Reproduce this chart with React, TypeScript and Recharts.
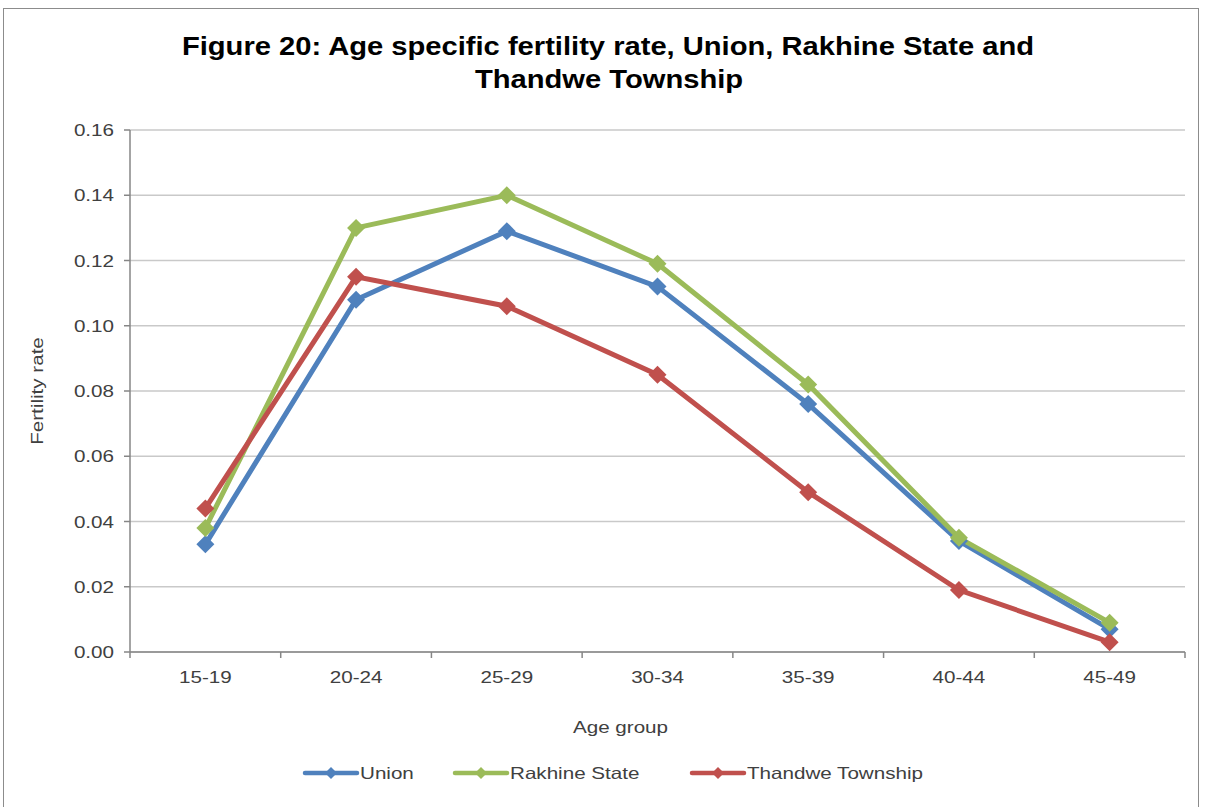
import React from "react";
import { LineChart, Line, XAxis, YAxis, CartesianGrid, Legend } from "recharts";

const ageGroups = ["15-19", "20-24", "25-29", "30-34", "35-39", "40-44", "45-49"];
const unionRate = [0.033, 0.108, 0.129, 0.112, 0.076, 0.034, 0.007];
const rakhineRate = [0.038, 0.13, 0.14, 0.119, 0.082, 0.035, 0.009];
const thandweRate = [0.044, 0.115, 0.106, 0.085, 0.049, 0.019, 0.003];
const yTicks = [0, 0.02, 0.04, 0.06, 0.08, 0.1, 0.12, 0.14, 0.16];

const seriesNames = ["Union", "Rakhine State", "Thandwe Township"];
const legendStart = [303, 453, 690];

const chartData = ageGroups.map((age, i) => ({
  age,
  union: unionRate[i],
  rakhine: rakhineRate[i],
  thandwe: thandweRate[i],
}));

const FONT = '"Liberation Sans", Arial, sans-serif';
const AXIS_GREY = "#868686";
const TEXT = "#404040";

// the source picture is stretched sideways, so text gets scaled on x
const Stretched = ({ x, y, sx = 1.25, rotate = 0, anchor = "start", size = 16.5, bold = false, fill = TEXT, children }: any) => (
  <text
    transform={`translate(${x} ${y}) rotate(${rotate}) scale(${sx} 1)`}
    textAnchor={anchor}
    fontFamily={FONT}
    fontSize={size}
    fontWeight={bold ? "bold" : "normal"}
    fill={fill}
  >
    {children}
  </text>
);

const diamond = (props: any) => {
  const { cx, cy, stroke, index, dataKey } = props;
  if (cx == null || cy == null) return <g key={`${dataKey}-${index}`} />;
  const r = 9;
  return (
    <polygon
      key={`${dataKey}-${index}`}
      points={`${cx},${cy - r} ${cx + r},${cy} ${cx},${cy + r} ${cx - r},${cy}`}
      fill={stroke}
    />
  );
};

// labels centred in the band, tick marks on the band edges
const AgeTick = (props: any) => {
  const { x, y, payload, index, width, visibleTicksCount } = props;
  const band = width / visibleTicksCount;
  const last = index === visibleTicksCount - 1;
  return (
    <g>
      <line x1={x - band / 2} x2={x - band / 2} y1={y} y2={y + 6} stroke={AXIS_GREY} strokeWidth={1.5} />
      {last && <line x1={x + band / 2} x2={x + band / 2} y1={y} y2={y + 6} stroke={AXIS_GREY} strokeWidth={1.5} />}
      <Stretched x={x} y={y + 31} anchor="middle">
        {payload.value}
      </Stretched>
    </g>
  );
};

const RateTick = (props: any) => {
  const { x, y, payload } = props;
  return (
    <Stretched x={x} y={y + 6} anchor="end">
      {Number(payload.value).toFixed(2)}
    </Stretched>
  );
};

const renderLegend = (props: any) => {
  const payload = props.payload || [];
  const items = seriesNames.map((n) => payload.find((p: any) => p.value === n)).filter(Boolean);
  return (
    <svg width={1205} height={30}>
      {items.map((p: any, i: number) => {
        const x0 = legendStart[i];
        return (
          <g key={p.value}>
            <line x1={x0 + 2} x2={x0 + 54} y1={14} y2={14} stroke={p.color} strokeWidth={4.5} strokeLinecap="round" />
            <polygon points={`${x0 + 28},8 ${x0 + 34},14 ${x0 + 28},20 ${x0 + 22},14`} fill={p.color} />
            <Stretched x={x0 + 57} y={20}>
              {p.value}
            </Stretched>
          </g>
        );
      })}
    </svg>
  );
};

export default function App() {
  return (
    <div style={{ position: "absolute", left: 0, top: 0, width: 1205, height: 807, background: "#fff", overflow: "hidden" }}>
      <div
        style={{
          position: "absolute",
          left: 3,
          top: 8,
          width: 1196,
          height: 830,
          border: "1.5px solid #8c8c8c",
          boxSizing: "border-box",
        }}
      />
      <svg width={1205} height={110} style={{ position: "absolute", left: 0, top: 0 }}>
        <Stretched x={608} y={55} sx={1.1} anchor="middle" size={26.5} bold fill="#000">
          Figure 20: Age specific fertility rate, Union, Rakhine State and
        </Stretched>
        <Stretched x={609} y={88} sx={1.1} anchor="middle" size={26.5} bold fill="#000">
          Thandwe Township
        </Stretched>
      </svg>
      <div style={{ position: "absolute", left: 0, top: 0 }}>
        <LineChart width={1205} height={807} data={chartData} margin={{ top: 130, right: 20, left: 0, bottom: 87 }}>
          <CartesianGrid vertical={false} stroke="#c9c9c9" strokeWidth={1.5} />
          <XAxis
            dataKey="age"
            scale="band"
            height={68}
            stroke={AXIS_GREY}
            strokeWidth={1.5}
            tickLine={false}
            tickSize={0}
            tickMargin={0}
            tick={<AgeTick />}
            interval={0}
            label={{
              content: (lp: any) => {
                const vb = lp.viewBox;
                return (
                  <Stretched x={vb.x + vb.width / 2 - 37} y={vb.y + 81} anchor="middle">
                    Age group
                  </Stretched>
                );
              },
            }}
          />
          <YAxis
            width={130}
            domain={[0, 0.16]}
            ticks={yTicks}
            stroke={AXIS_GREY}
            strokeWidth={1.5}
            tickSize={6}
            tickMargin={10}
            tick={<RateTick />}
            label={{
              content: (lp: any) => {
                const vb = lp.viewBox;
                return (
                  <Stretched x={43} y={vb.y + vb.height / 2} rotate={-90} anchor="middle">
                    Fertility rate
                  </Stretched>
                );
              },
            }}
          />
          <Legend
            verticalAlign="middle"
            align="center"
            layout="horizontal"
            wrapperStyle={{ top: 759, left: 0, width: 1205 }}
            content={renderLegend}
          />
          <Line name="Union" dataKey="union" stroke="#4f81bd" strokeWidth={5} dot={diamond} activeDot={false} isAnimationActive={false} />
          <Line name="Rakhine State" dataKey="rakhine" stroke="#9bbb59" strokeWidth={5} dot={diamond} activeDot={false} isAnimationActive={false} />
          <Line name="Thandwe Township" dataKey="thandwe" stroke="#c0504d" strokeWidth={5} dot={diamond} activeDot={false} isAnimationActive={false} />
        </LineChart>
      </div>
    </div>
  );
}
